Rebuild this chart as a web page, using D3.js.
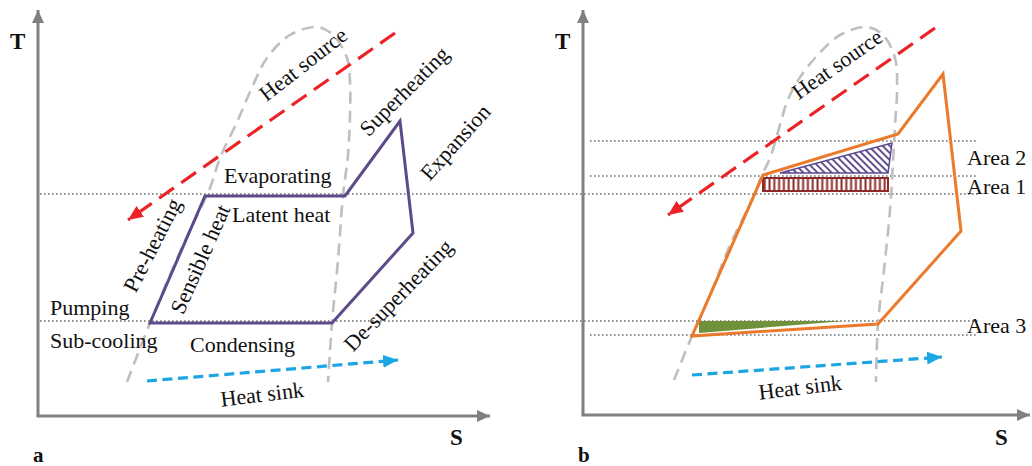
<!DOCTYPE html>
<html>
<head>
<meta charset="utf-8">
<script src="https://cdn.jsdelivr.net/npm/d3@7"></script>
<style>
  body { margin: 0; background: #fff; }
  svg { display: block; font-family: 'Liberation Serif', 'Times New Roman', serif; }
</style>
</head>
<body>
<div id="chart"></div>
<script>
// Values are [S, T] in chart units, measured from each panel's axis origin

// Panel a: ORC cycle
const cycleA = [[112, 93], [167, 220], [307, 220], [362, 295], [375, 183], [294, 93]]
const domeA = [
  [89, 34], [112, 93], [145, 171], [172, 228], [182, 258], [199, 294], [212, 324],
  [229, 358], [252, 381], [280, 389], [295, 381], [309, 358], [312, 334], [312, 301],
  [310, 261], [305, 221], [300, 156], [294, 93], [290, 34],
]
const heatSourceA = [[357, 383], [90, 196]]
const heatSinkA = [[109, 35], [360, 56]]
// dotted levels that run across both panels (panel a units)
const longLevels = [
  { T: 222, from: 2, to: 940 },
  { T: 95, from: 2, to: 940 },
]
const labelsA = [
  { text: 'Evaporating', S: 186, T: 233, rot: 0, anchor: 'start' },
  { text: 'Latent heat', S: 194, T: 194, rot: 0, anchor: 'start' },
  { text: 'Pumping', S: 12, T: 101, rot: 0, anchor: 'start' },
  { text: 'Sub-cooling', S: 12, T: 68, rot: 0, anchor: 'start' },
  { text: 'Condensing', S: 152, T: 64, rot: 0, anchor: 'start' },
  { text: 'Heat source', S: 265, T: 352, rot: -38, anchor: 'middle' },
  { text: 'Superheating', S: 366, T: 325, rot: -45, anchor: 'middle' },
  { text: 'Expansion', S: 417, T: 274, rot: -48, anchor: 'middle' },
  { text: 'Pre-heating', S: 114, T: 171, rot: -63, anchor: 'middle' },
  { text: 'Sensible heat', S: 162, T: 157, rot: -66, anchor: 'middle' },
  { text: 'De-superheating', S: 360, T: 121, rot: -46, anchor: 'middle' },
  { text: 'Heat sink', S: 224, T: 22, rot: -7, anchor: 'middle' },
]

// Panel b: zeotropic cycle with temperature glide
const cycleB = [[109, 79], [180, 240], [315, 281], [360, 341], [378, 184], [295, 91]]
const domeB = [
  [91, 35], [109, 79], [127, 120], [147, 170], [169, 215], [179, 240], [187, 257],
  [197, 290], [204, 313], [214, 333], [232, 357], [257, 380], [284, 388], [300, 380],
  [312, 357], [314, 323], [312, 290], [310, 253], [307, 205], [301, 145], [295, 91], [293, 33],
]
const heatSourceB = [[352, 387], [85, 200]]
const heatSinkB = [[109, 40], [359, 58]]
const levelsB = [
  { T: 274, from: 7, to: 395 },
  { T: 239, from: 7, to: 395 },
  { T: 80, from: 7, to: 395 },
]
const area1 = [[180, 237], [305, 237], [305, 224], [180, 224]]
const area2 = [[197, 242], [305, 242], [309, 272]]
const area3 = [[116, 94], [262, 94], [116, 82]]
const labelsB = [
  { text: 'Heat source', S: 254, T: 351, rot: -35, anchor: 'middle' },
  { text: 'Heat sink', S: 217, T: 28, rot: -7, anchor: 'middle' },
  { text: 'Area 2', S: 384, T: 250, rot: 0, anchor: 'start' },
  { text: 'Area 1', S: 384, T: 221, rot: 0, anchor: 'start' },
  { text: 'Area 3', S: 384, T: 82, rot: 0, anchor: 'start' },
]

const width = 1032,
  height = 466

const svg = d3
  .select('#chart')
  .append('svg')
  .attr('width', width)
  .attr('height', height)

const defs = svg.append('defs')

// arrow heads
function addMarker(id, color, len, wid) {
  defs
    .append('marker')
    .attr('id', id)
    .attr('markerUnits', 'userSpaceOnUse')
    .attr('viewBox', `0 0 ${len} ${wid}`)
    .attr('refX', len)
    .attr('refY', wid / 2)
    .attr('markerWidth', len)
    .attr('markerHeight', wid)
    .attr('orient', 'auto')
    .append('path')
    .attr('d', `M0,0 L${len},${wid / 2} L0,${wid} Z`)
    .attr('fill', color)
}
addMarker('axisHead', '#808080', 13, 12)
addMarker('redHead', '#ec2228', 15, 13)
addMarker('blueHead', '#1ca6e3', 15, 13)

// hatch patterns
const p2 = defs
  .append('pattern')
  .attr('id', 'diagHatch')
  .attr('patternUnits', 'userSpaceOnUse')
  .attr('width', 5)
  .attr('height', 5)
  .attr('patternTransform', 'rotate(-45)')
p2.append('line')
  .attr('x1', 1)
  .attr('y1', 0)
  .attr('x2', 1)
  .attr('y2', 5)
  .attr('stroke', '#5b4a8c')
  .attr('stroke-width', 1.9)

const p1 = defs
  .append('pattern')
  .attr('id', 'vertHatch')
  .attr('patternUnits', 'userSpaceOnUse')
  .attr('width', 4.8)
  .attr('height', 10)
p1.append('line')
  .attr('x1', 1.5)
  .attr('y1', 0)
  .attr('x2', 1.5)
  .attr('y2', 10)
  .attr('stroke', '#8e2a2a')
  .attr('stroke-width', 2)

function drawPanel(opts) {
  const x = d3.scaleLinear().domain([0, opts.sMax]).range([opts.x0, opts.x0 + opts.sMax])
  const y = d3.scaleLinear().domain([0, opts.tMax]).range([opts.y0, opts.y0 - opts.tMax])
  const g = svg.append('g')
  const line = d3
    .line()
    .x((d) => x(d[0]))
    .y((d) => y(d[1]))

  // dotted guide levels
  g.selectAll('.level')
    .data(opts.levels)
    .enter()
    .append('line')
    .attr('x1', (d) => x(d.from))
    .attr('x2', (d) => x(d.to))
    .attr('y1', (d) => y(d.T))
    .attr('y2', (d) => y(d.T))
    .attr('stroke', '#6e6e6e')
    .attr('stroke-width', 1.6)
    .attr('stroke-dasharray', '1.6,2.4')

  // axes with arrows
  g.append('path')
    .attr('d', `M${x(0)},${y(0)} L${x(0)},${y(opts.tMax)}`)
    .attr('stroke', '#808080')
    .attr('stroke-width', 3)
    .attr('marker-end', 'url(#axisHead)')
  g.append('path')
    .attr('d', `M${x(0) - 1.5},${y(0)} L${x(opts.sMax)},${y(0)}`)
    .attr('stroke', '#808080')
    .attr('stroke-width', 3)
    .attr('marker-end', 'url(#axisHead)')

  // saturation dome
  g.append('path')
    .datum(opts.dome)
    .attr('d', line.curve(d3.curveCatmullRom.alpha(0.5)))
    .attr('fill', 'none')
    .attr('stroke', '#bfbfbf')
    .attr('stroke-width', 2.6)
    .attr('stroke-dasharray', '12,7')
  line.curve(d3.curveLinear)

  if (opts.areas) {
    opts.areas.forEach((a) => {
      g.append('path')
        .datum(a.pts)
        .attr('d', (d) => line(d) + 'Z')
        .attr('fill', a.fill)
        .attr('stroke', a.stroke)
        .attr('stroke-width', a.sw)
    })
  }

  // cycle
  g.append('path')
    .datum(opts.cycle)
    .attr('d', (d) => line(d) + 'Z')
    .attr('fill', 'none')
    .attr('stroke', opts.cycleColor)
    .attr('stroke-width', 3)
    .attr('stroke-linejoin', 'miter')

  // heat source / sink
  g.append('path')
    .datum(opts.source)
    .attr('d', line)
    .attr('stroke', '#ec2228')
    .attr('stroke-width', 3.2)
    .attr('stroke-dasharray', '18,9')
    .attr('marker-end', 'url(#redHead)')
  g.append('path')
    .datum(opts.sink)
    .attr('d', line)
    .attr('stroke', '#1ca6e3')
    .attr('stroke-width', 3.2)
    .attr('stroke-dasharray', '10,5.5')
    .attr('marker-end', 'url(#blueHead)')

  g.selectAll('.label')
    .data(opts.labels)
    .enter()
    .append('text')
    .attr('transform', (d) => `translate(${x(d.S)},${y(d.T)}) rotate(${d.rot})`)
    .attr('dy', (d) => (d.anchor === 'middle' ? '0.35em' : 0))
    .attr('text-anchor', (d) => d.anchor)
    .attr('font-size', 22)
    .attr('fill', '#111')
    .text((d) => d.text)

  // axis titles and panel letter
  const bold = [
    { t: 'T', px: opts.x0 - 28, py: 49 },
    { t: 'S', px: opts.x0 + 412, py: 445 },
    { t: opts.letter, px: opts.x0 - 5, py: 462 },
  ]
  g.selectAll('.title')
    .data(bold)
    .enter()
    .append('text')
    .attr('x', (d) => d.px)
    .attr('y', (d) => d.py)
    .attr('font-size', (d) => (d.t.length && d.t === opts.letter ? 21 : 23))
    .attr('font-weight', 'bold')
    .attr('fill', '#111')
    .text((d) => d.t)
}

drawPanel({
  x0: 38,
  y0: 416,
  sMax: 452,
  tMax: 406,
  cycle: cycleA,
  cycleColor: '#5e4a8b',
  dome: domeA,
  source: heatSourceA,
  sink: heatSinkA,
  levels: longLevels,
  labels: labelsA,
  letter: 'a',
})

drawPanel({
  x0: 583,
  y0: 415,
  sMax: 447,
  tMax: 405,
  cycle: cycleB,
  cycleColor: '#ec7a2c',
  dome: domeB,
  source: heatSourceB,
  sink: heatSinkB,
  levels: levelsB,
  labels: labelsB,
  letter: 'b',
  areas: [
    { pts: area3, fill: '#6f9139', stroke: 'none', sw: 0 },
    { pts: area1, fill: 'url(#vertHatch)', stroke: '#8e2a2a', sw: 2 },
    { pts: area2, fill: 'url(#diagHatch)', stroke: '#5b4a8c', sw: 1.5 },
  ],
})
</script>
</body>
</html>
